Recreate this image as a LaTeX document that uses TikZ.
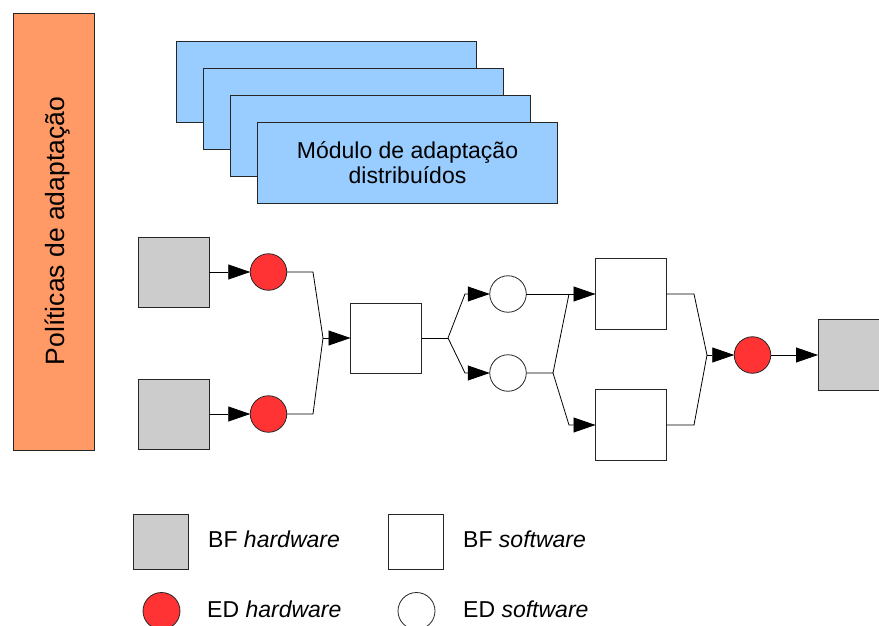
\documentclass[tikz,border=0pt]{standalone}
\usepackage{fontspec}
\setmainfont{Liberation Sans}
\usetikzlibrary{arrows.meta}
\definecolor{polorange}{HTML}{FF9966}
\definecolor{modblue}{HTML}{99CCFF}
\definecolor{hwgray}{HTML}{CCCCCC}
\definecolor{hwred}{HTML}{FF3333}
\begin{document}
\begin{tikzpicture}[x=1pt,y=-1pt,
  outline/.style={draw=black!85,line width=0.8pt,inner sep=0pt,outer sep=0pt},
  policybox/.style={outline,fill=polorange,minimum width=81pt,minimum height=437pt},
  modbox/.style={outline,fill=modblue,minimum width=300pt,minimum height=81pt},
  hwbox/.style={outline,fill=hwgray,minimum width=71pt,minimum height=70pt},
  swbox/.style={outline,fill=white,minimum width=71pt,minimum height=70pt},
  hwev/.style={outline,circle,fill=hwred,minimum size=36.5pt},
  swev/.style={outline,circle,fill=white,minimum size=36.5pt},
  keybox/.style={minimum width=55pt,minimum height=55pt},
  keytext/.style={anchor=base west,inner sep=0pt,font=\fontsize{23}{25}\selectfont},
  wire/.style={draw=black,line width=0.8pt},
  flow/.style={wire,-{Triangle[length=22pt,width=15pt]}}]
\useasboundingbox (0,0) rectangle (879,626);
\clip (0,0) rectangle (879,626);

% adaptation policies bar
\node[policybox] (pol) at (53.5,231.5) {};
\node[anchor=base,rotate=90,inner sep=0pt,font=\fontsize{26.5}{28}\selectfont]
  (poltext) at (64,231) {Políticas de adaptação};

% stack of distributed adaptation modules
\node[modbox] (mod1) at (326,81.5) {};
\node[modbox] (mod2) at (353,108.5) {};
\node[modbox] (mod3) at (380,135.5) {};
\node[modbox,align=center,font=\fontsize{23}{25}\selectfont] (mod4) at (407.5,163)
  {Módulo de adaptação\\distribuídos};

% functional blocks and events
\node[hwbox] (hw1) at (173.5,272) {};
\node[hwbox] (hw2) at (173.5,414) {};
\node[hwev] (ed1) at (268.5,272) {};
\node[hwev] (ed2) at (268.5,414) {};
\node[swbox] (sw1) at (386,338) {};
\node[swev] (es1) at (508,294) {};
\node[swev] (es2) at (508,373) {};
\node[swbox,minimum height=71pt] (sw2) at (631,294) {};
\node[swbox,minimum height=71pt] (sw3) at (631,425) {};
\node[hwev] (ed3) at (752.5,355) {};
\node[hwbox,minimum height=71pt] (hw3) at (853.5,355) {};

% junction points
\coordinate (m1) at (323,338);
\coordinate (s1) at (448,338);
\coordinate (s2) at (553,373);
\coordinate (j2) at (569,294);
\coordinate (m3) at (707,355);

% connectors
\draw[flow] (hw1) -- (ed1);
\draw[flow] (hw2) -- (ed2);
\draw[wire] (ed1.east) -- (313,272) -- (m1);
\draw[wire] (ed2.east) -- (313,414) -- (m1);
\draw[flow] (m1) -- (sw1.west);
\draw[wire] (sw1.east) -- (s1);
\draw[flow] (s1) -- (465,294) -- (es1.west);
\draw[flow] (s1) -- (465,373) -- (es2.west);
\draw[flow] (es1) -- (sw2);
\draw[wire] (es2.east) -- (s2) -- (j2);
\draw[flow] (s2) -- (569,425) -- (sw3.west);
\draw[wire] (sw2.east) -- (694,294) -- (m3);
\draw[wire] (sw3.east) -- (694,425) -- (m3);
\draw[flow] (m3) -- (ed3.west);
\draw[flow] (ed3) -- (hw3);

% key
\node[hwbox,keybox] (khw) at (160.5,541.5) {};
\node[swbox,keybox] (ksw) at (415.5,541.5) {};
\node[hwev,minimum size=37pt] (ked) at (161.5,611) {};
\node[swev,minimum size=37pt] (kes) at (416.5,611) {};
\node[keytext] (tkhw) at (208,547) {BF \textit{hardware}};
\node[keytext] (tksw) at (463,547) {BF \textit{software}};
\node[keytext] (tked) at (207,617) {ED \textit{hardware}};
\node[keytext] (tkes) at (463,617) {ED \textit{software}};
\end{tikzpicture}
\end{document}
